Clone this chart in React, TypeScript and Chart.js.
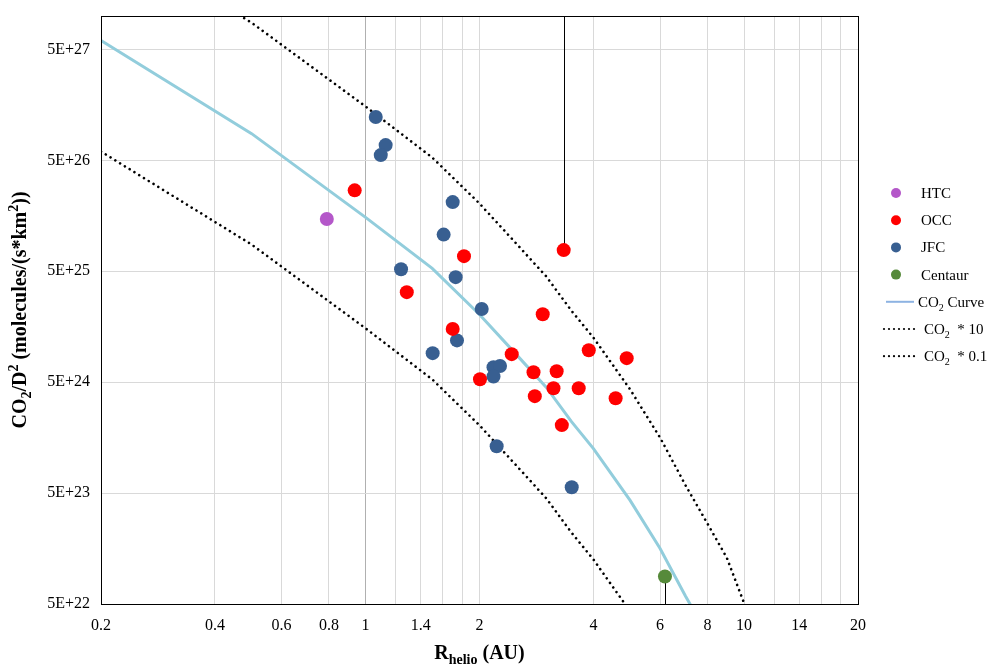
import { useEffect, useRef } from 'react';
import { Chart, registerables } from 'chart.js';

Chart.register(...registerables);

const SERIF = '"Liberation Serif", "Times New Roman", serif';

// heliocentric distance (AU) vs CO2 production per D^2
const htcR = [0.79];
const htcQ = [1.48e26];

const occR = [0.936, 1.82, 1.285, 1.699, 3.338, 2.938, 2.433, 2.006, 2.778, 3.198, 3.888, 4.897, 3.137, 3.657, 2.8, 4.578, 3.3];
const occQ = [2.68e26, 6.84e25, 3.24e25, 1.51e25, 7.75e25, 2.05e25, 8.94e24, 5.31e24, 6.15e24, 6.27e24, 9.7e24, 8.23e24, 4.41e24, 4.41e24, 3.74e24, 3.58e24, 2.05e24];
// upper error limit (only one OCC has one, and it runs off the top)
const occUpper = [null, null, null, null, 3e28, null, null, null, null, null, null, null, null, null, null, null, null];

const jfcR = [1.064, 1.13, 1.097, 1.699, 1.608, 1.241, 1.73, 2.027, 1.504, 1.744, 2.178, 2.266, 2.178, 2.22, 3.505];
const jfcQ = [1.23e27, 6.86e26, 5.57e26, 2.1e26, 1.07e26, 5.21e25, 4.42e25, 2.28e25, 9.13e24, 1.19e25, 6.83e24, 7.0e24, 5.62e24, 1.32e24, 5.65e23];

const centaurR = [6.18];
const centaurQ = [8.85e22];
const centaurLower = [1e22];

const curveR = [0.2, 0.5, 1, 1.5, 2, 2.5, 3, 3.5, 4, 5, 6, 7, 8, 9, 10];
const curveQ = [6.0e27, 8.7e26, 1.53e26, 5.3e25, 2.04e25, 8.9e24, 4.5e24, 2.2e24, 1.26e24, 4.3e23, 1.58e23, 5.9e22, 2.66e22, 1.31e22, 5.1e21];

const xGrid = [0.2, 0.4, 0.6, 0.8, 1, 1.2, 1.4, 1.6, 1.8, 2, 4, 6, 8, 10, 12, 14, 16, 18, 20];
const xLabels = [0.2, 0.4, 0.6, 0.8, 1, 1.4, 2, 4, 6, 8, 10, 14, 20];
const yTicks = [5e22, 5e23, 5e24, 5e25, 5e26, 5e27];

const COL_HTC = '#b457c9';
const COL_OCC = '#ff0000';
const COL_JFC = '#385f91';
const COL_CEN = '#568a3a';
const COL_CURVE = '#92cddc';

type Seg = { t: string; s?: 'sub' | 'sup' };

function drawRich(ctx: CanvasRenderingContext2D, segs: Seg[], x: number, y: number, size: number, bold: boolean, align: 'left' | 'center') {
  const font = (sz: number) => `${bold ? 'bold ' : ''}${sz}px ${SERIF}`;
  const small = Math.round(size * 0.68);
  const widths = segs.map((g) => {
    ctx.font = font(g.s ? small : size);
    return ctx.measureText(g.t).width;
  });
  const total = widths.reduce((a, b) => a + b, 0);
  let cx = align === 'center' ? x - total / 2 : x;
  ctx.textAlign = 'left';
  ctx.textBaseline = 'alphabetic';
  segs.forEach((g, i) => {
    ctx.font = font(g.s ? small : size);
    const dy = g.s === 'sub' ? size * 0.26 : g.s === 'sup' ? -size * 0.38 : 0;
    ctx.fillText(g.t, cx, y + dy);
    cx += widths[i];
  });
}

const legendItems: { kind: 'dot' | 'line' | 'dots'; color: string; label: Seg[] }[] = [
  { kind: 'dot', color: COL_HTC, label: [{ t: 'HTC' }] },
  { kind: 'dot', color: COL_OCC, label: [{ t: 'OCC' }] },
  { kind: 'dot', color: COL_JFC, label: [{ t: 'JFC' }] },
  { kind: 'dot', color: COL_CEN, label: [{ t: 'Centaur' }] },
  { kind: 'line', color: '#8db3e2', label: [{ t: 'CO' }, { t: '2', s: 'sub' }, { t: ' Curve' }] },
  { kind: 'dots', color: '#000', label: [{ t: 'CO' }, { t: '2', s: 'sub' }, { t: '  * 10' }] },
  { kind: 'dots', color: '#000', label: [{ t: 'CO' }, { t: '2', s: 'sub' }, { t: '  * 0.1' }] },
];

const decorations = {
  id: 'decorations',
  beforeDatasetsDraw(chart: any) {
    const { ctx, chartArea, scales } = chart;
    ctx.save();
    ctx.beginPath();
    ctx.rect(chartArea.left, chartArea.top, chartArea.right - chartArea.left, chartArea.bottom - chartArea.top);
    ctx.clip();
    ctx.strokeStyle = '#000';
    ctx.lineWidth = 1;
    const bar = (r: number, from: number, to: number) => {
      const x = Math.round(scales.x.getPixelForValue(r)) + 0.5;
      ctx.beginPath();
      ctx.moveTo(x, scales.y.getPixelForValue(from));
      ctx.lineTo(x, scales.y.getPixelForValue(to));
      ctx.stroke();
    };
    occR.forEach((r, i) => {
      const u = occUpper[i];
      if (u != null) bar(r, occQ[i], u);
    });
    centaurR.forEach((r, i) => bar(r, centaurQ[i], centaurLower[i]));
    ctx.restore();
  },
  afterDraw(chart: any) {
    const { ctx, chartArea } = chart;
    ctx.save();
    // plot frame
    ctx.strokeStyle = '#000';
    ctx.lineWidth = 1;
    ctx.strokeRect(Math.round(chartArea.left) + 0.5, Math.round(chartArea.top) + 0.5,
      Math.round(chartArea.right - chartArea.left), Math.round(chartArea.bottom - chartArea.top));

    ctx.fillStyle = '#000';
    // axis titles
    drawRich(ctx, [{ t: 'R' }, { t: 'helio', s: 'sub' }, { t: ' (AU)' }],
      (chartArea.left + chartArea.right) / 2, 659, 20, true, 'center');
    ctx.save();
    ctx.translate(26, (chartArea.top + chartArea.bottom) / 2);
    ctx.rotate(-Math.PI / 2);
    drawRich(ctx, [{ t: 'CO' }, { t: '2', s: 'sub' }, { t: '/D' }, { t: '2', s: 'sup' },
      { t: ' (molecules/(s*km' }, { t: '2', s: 'sup' }, { t: '))' }], 0, 0, 20, true, 'center');
    ctx.restore();

    // legend
    legendItems.forEach((it, i) => {
      const y = 193 + i * 27.2;
      let tx = 921;
      if (it.kind === 'dot') {
        ctx.fillStyle = it.color;
        ctx.beginPath();
        ctx.arc(896, y, 5, 0, Math.PI * 2);
        ctx.fill();
      } else if (it.kind === 'line') {
        ctx.strokeStyle = it.color;
        ctx.lineWidth = 2;
        ctx.beginPath();
        ctx.moveTo(886, y);
        ctx.lineTo(914, y);
        ctx.stroke();
        tx = 918;
      } else {
        ctx.fillStyle = it.color;
        for (let k = 0; k < 7; k++) {
          ctx.beginPath();
          ctx.arc(884 + k * 5, y, 1.1, 0, Math.PI * 2);
          ctx.fill();
        }
        tx = 924;
      }
      ctx.fillStyle = '#000';
      drawRich(ctx, it.label, tx, y + 5, 15, false, 'left');
    });
    ctx.restore();
  },
};

const toPts = (xs: number[], ys: number[]) => xs.map((x, i) => ({ x, y: ys[i] }));

export default function App() {
  const canvasRef = useRef<HTMLCanvasElement>(null);
  const chartRef = useRef<Chart | null>(null);

  useEffect(() => {
    if (!canvasRef.current) return;
    if (chartRef.current) chartRef.current.destroy();

    const scatterStyle = (color: string) => ({
      backgroundColor: color,
      borderColor: color,
      pointRadius: 7,
      pointBorderWidth: 0,
      showLine: false,
    });
    const dotted = {
      borderColor: '#000',
      borderWidth: 2.6,
      borderDash: [0.01, 5.6],
      borderCapStyle: 'round' as const,
      pointRadius: 0,
      showLine: true,
      fill: false,
    };

    chartRef.current = new Chart(canvasRef.current, {
      type: 'scatter',
      data: {
        datasets: [
          { label: 'HTC', data: toPts(htcR, htcQ), ...scatterStyle(COL_HTC) },
          { label: 'OCC', data: toPts(occR, occQ), ...scatterStyle(COL_OCC) },
          { label: 'JFC', data: toPts(jfcR, jfcQ), ...scatterStyle(COL_JFC) },
          { label: 'Centaur', data: toPts(centaurR, centaurQ), ...scatterStyle(COL_CEN) },
          {
            label: 'CO2 Curve',
            data: toPts(curveR, curveQ),
            borderColor: COL_CURVE,
            borderWidth: 3,
            pointRadius: 0,
            showLine: true,
            fill: false,
          },
          { label: 'CO2 * 10', data: toPts(curveR, curveQ.map((q) => q * 10)), ...dotted },
          { label: 'CO2 * 0.1', data: toPts(curveR, curveQ.map((q) => q * 0.1)), ...dotted },
        ],
      },
      options: {
        animation: false,
        responsive: true,
        maintainAspectRatio: false,
        layout: { padding: { top: 16, right: 133, bottom: 0, left: 0 } },
        plugins: {
          legend: { display: false },
          tooltip: { enabled: false },
        },
        scales: {
          x: {
            type: 'logarithmic',
            min: 0.2,
            max: 20,
            afterBuildTicks: (scale: any) => {
              scale.ticks = xGrid.map((v) => ({ value: v }));
            },
            afterFit: (scale: any) => {
              scale.height = 65;
              scale.paddingLeft = 0;
              scale.paddingRight = 0;
            },
            ticks: {
              autoSkip: false,
              maxRotation: 0,
              padding: 12,
              color: '#000',
              font: { family: SERIF, size: 16 },
              callback: (v: any) => (xLabels.includes(Number(v)) ? String(v) : ''),
            },
            grid: {
              drawTicks: false,
              color: (c: any) => (c.tick && c.tick.value === 1 ? '#b0b0b0' : '#d9d9d9'),
            },
            border: { color: '#000' },
          },
          y: {
            type: 'logarithmic',
            min: 5e22,
            max: 1e28,
            afterBuildTicks: (scale: any) => {
              scale.ticks = yTicks.map((v) => ({ value: v }));
            },
            afterFit: (scale: any) => {
              scale.width = 101;
              scale.paddingTop = 0;
              scale.paddingBottom = 0;
            },
            ticks: {
              autoSkip: false,
              padding: 11,
              color: '#000',
              font: { family: SERIF, size: 16 },
              callback: (v: any) => Number(v).toExponential().toUpperCase(),
            },
            grid: { drawTicks: false, color: '#d9d9d9' },
            border: { color: '#000' },
          },
        },
      },
      plugins: [decorations],
    });

    return () => {
      chartRef.current?.destroy();
      chartRef.current = null;
    };
  }, []);

  return (
    <div style={{ position: 'fixed', left: 0, top: 0, width: 991, height: 669, background: '#fff' }}>
      <canvas ref={canvasRef} />
    </div>
  );
}
